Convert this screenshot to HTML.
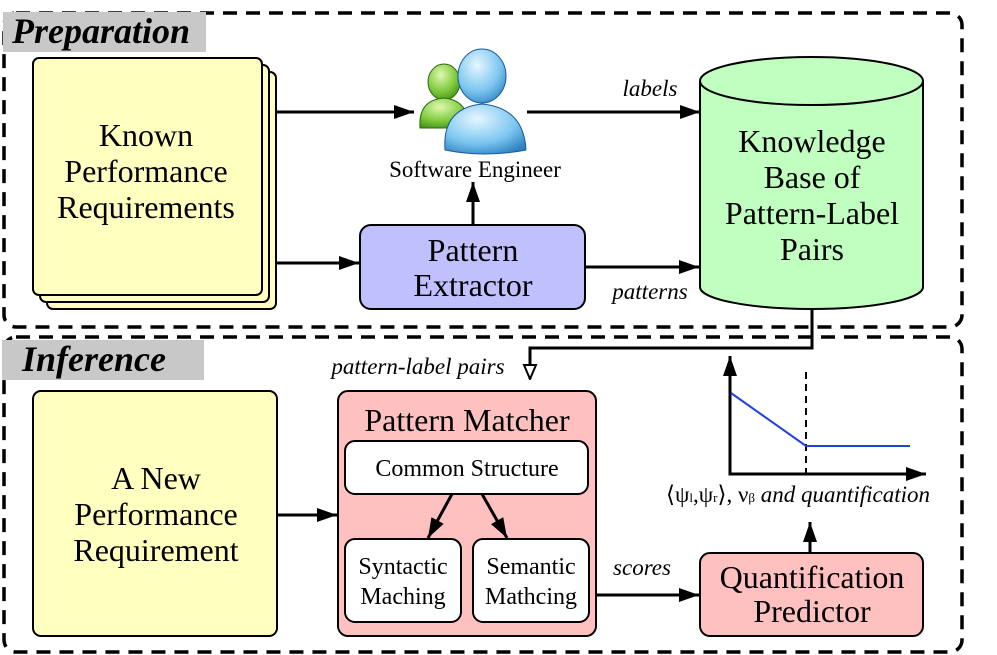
<!DOCTYPE html>
<html><head><meta charset="utf-8"><style>
html,body{margin:0;padding:0;background:#fff;width:997px;height:655px;overflow:hidden}
svg{display:block}
text{font-family:"Liberation Serif","Times New Roman",serif;fill:#000}
</style></head><body>
<svg width="997" height="655" viewBox="0 0 997 655" xmlns="http://www.w3.org/2000/svg">
<defs>
<marker id="a" viewBox="0 0 20 14" markerWidth="20" markerHeight="14" refX="20" refY="7" orient="auto" markerUnits="userSpaceOnUse"><path d="M0,0 L20,7 L0,14 Z" fill="#000"/></marker>
<marker id="ao" viewBox="0 0 16 16" markerWidth="16" markerHeight="16" refX="15" refY="8" orient="auto" markerUnits="userSpaceOnUse"><path d="M1,2 L15,8 L1,14 Z" fill="#fff" stroke="#000" stroke-width="2"/></marker>
<radialGradient id="gb" cx="0.4" cy="0.3" r="0.8"><stop offset="0" stop-color="#e6f6ff"/><stop offset="0.6" stop-color="#7cc6f0"/><stop offset="1" stop-color="#2a7fc0"/></radialGradient>
<radialGradient id="gg" cx="0.4" cy="0.3" r="0.8"><stop offset="0" stop-color="#dff8b0"/><stop offset="0.6" stop-color="#7cc83a"/><stop offset="1" stop-color="#3a8a10"/></radialGradient>
</defs>
<rect x="4" y="13" width="958" height="314" rx="12" fill="none" stroke="#000" stroke-width="3.5" stroke-dasharray="14,9"/>
<rect x="4" y="337" width="958" height="315" rx="12" fill="none" stroke="#000" stroke-width="3.5" stroke-dasharray="14,9"/>
<rect x="3" y="12" width="203" height="40" fill="#c8c8c8"/>
<text x="12" y="43" font-size="36" font-weight="bold" font-style="italic">Preparation</text>
<rect x="2" y="340" width="202" height="40" fill="#c8c8c8"/>
<text x="22" y="371" font-size="36" font-weight="bold" font-style="italic">Inference</text>
<rect x="47" y="72" width="229" height="237" rx="6" fill="#ffffc0" stroke="#000" stroke-width="2"/>
<rect x="40" y="65" width="229" height="237" rx="6" fill="#ffffc0" stroke="#000" stroke-width="2"/>
<rect x="33" y="58" width="229" height="237" rx="6" fill="#ffffc0" stroke="#000" stroke-width="2"/>
<text font-size="32" text-anchor="middle"><tspan x="146" y="146">Known</tspan><tspan x="146" y="182">Performance</tspan><tspan x="146" y="218">Requirements</tspan></text>
<ellipse cx="444" cy="82" rx="16" ry="18" fill="url(#gg)" stroke="#2a6a10" stroke-width="1"/>
<path d="M420,128 Q418,100 444,98 Q468,100 470,128 Z" fill="url(#gg)" stroke="#2a6a10"/>
<ellipse cx="482" cy="76" rx="24" ry="27" fill="url(#gb)" stroke="#1a5a9a"/>
<path d="M445,150 Q442,108 482,104 Q524,108 526,150 Q485,158 445,150 Z" fill="url(#gb)" stroke="#1a5a9a"/>
<text x="475" y="177" font-size="23" text-anchor="middle">Software Engineer</text>
<path d="M700,81 L700,287 A111.5,22 0 0 0 923,287 L923,81" fill="#c0ffc0" stroke="#000" stroke-width="2"/>
<ellipse cx="811.5" cy="81" rx="111.5" ry="24" fill="#c0ffc0" stroke="#000" stroke-width="2"/>
<text font-size="32" text-anchor="middle"><tspan x="812" y="152">Knowledge</tspan><tspan x="812" y="188">Base of</tspan><tspan x="812" y="224">Pattern-Label</tspan><tspan x="812" y="260">Pairs</tspan></text>
<rect x="360" y="225" width="225" height="84" rx="11" fill="#c0c0ff" stroke="#000" stroke-width="2"/>
<text font-size="32" text-anchor="middle"><tspan x="473" y="261">Pattern</tspan><tspan x="473" y="296">Extractor</tspan></text>
<g stroke="#000" stroke-width="3" fill="none">
<line x1="276" y1="112" x2="414" y2="112" marker-end="url(#a)"/>
<line x1="527" y1="112" x2="700" y2="112" marker-end="url(#a)"/>
<line x1="276" y1="263" x2="359" y2="263" marker-end="url(#a)"/>
<line x1="585" y1="267" x2="699" y2="267" marker-end="url(#a)"/>
<line x1="473" y1="225" x2="473" y2="182" marker-end="url(#a)"/>
<polyline points="812,309 812,348 530,348 530,379" marker-end="url(#ao)"/>
</g>
<text x="650" y="96" font-size="23" font-style="italic" text-anchor="middle">labels</text>
<text x="650" y="299" font-size="23" font-style="italic" text-anchor="middle">patterns</text>
<text x="418" y="374" font-size="23" font-style="italic" text-anchor="middle">pattern-label pairs</text>
<rect x="33" y="391" width="244" height="245" rx="8" fill="#ffffc0" stroke="#000" stroke-width="2"/>
<text font-size="32" text-anchor="middle"><tspan x="156" y="489">A New</tspan><tspan x="156" y="525">Performance</tspan><tspan x="156" y="561">Requirement</tspan></text>
<rect x="338" y="391" width="258" height="245" rx="10" fill="#ffc0c0" stroke="#000" stroke-width="2"/>
<text x="467" y="431" font-size="32" text-anchor="middle">Pattern Matcher</text>
<rect x="345" y="441" width="243" height="53" rx="10" fill="#fff" stroke="#000" stroke-width="2"/>
<text x="467" y="476" font-size="24" text-anchor="middle">Common Structure</text>
<rect x="345" y="539" width="116" height="83" rx="10" fill="#fff" stroke="#000" stroke-width="2"/>
<text font-size="24" text-anchor="middle"><tspan x="403" y="574">Syntactic</tspan><tspan x="403" y="604">Maching</tspan></text>
<rect x="473" y="539" width="116" height="83" rx="10" fill="#fff" stroke="#000" stroke-width="2"/>
<text font-size="24" text-anchor="middle"><tspan x="531" y="574">Semantic</tspan><tspan x="531" y="604">Mathcing</tspan></text>
<rect x="700" y="553" width="223" height="83" rx="10" fill="#ffc0c0" stroke="#000" stroke-width="2"/>
<text font-size="32" text-anchor="middle"><tspan x="812" y="588">Quantification</tspan><tspan x="812" y="622">Predictor</tspan></text>
<g stroke="#000" stroke-width="3" fill="none">
<line x1="277" y1="515" x2="337" y2="515" marker-end="url(#a)"/>
<line x1="452" y1="494" x2="428" y2="538" marker-end="url(#a)"/>
<line x1="482" y1="494" x2="507" y2="538" marker-end="url(#a)"/>
<line x1="596" y1="595" x2="699" y2="595" marker-end="url(#a)"/>
<line x1="810" y1="553" x2="810" y2="522" marker-end="url(#a)"/>
<polyline points="730,356 730,474 925,474" fill="none"/>
<line x1="730" y1="375" x2="730" y2="356" marker-end="url(#a)"/>
<line x1="900" y1="474" x2="926" y2="474" marker-end="url(#a)"/>
</g>
<line x1="806" y1="372" x2="806" y2="474" stroke="#000" stroke-width="2" stroke-dasharray="7,5"/>
<polyline points="731,393 806,446 910,446" fill="none" stroke="#2040e0" stroke-width="2"/>
<text x="798" y="502" font-size="23" font-style="italic" text-anchor="middle"><tspan font-style="normal">⟨ψ</tspan><tspan font-size="13" font-style="normal">l</tspan><tspan font-style="normal">,ψ</tspan><tspan font-size="13" font-style="normal">r</tspan><tspan font-style="normal">⟩, ν</tspan><tspan font-size="13" font-style="normal">β</tspan> and quantification</text>
<text x="642" y="575" font-size="23" font-style="italic" text-anchor="middle">scores</text>
</svg>
</body></html>
